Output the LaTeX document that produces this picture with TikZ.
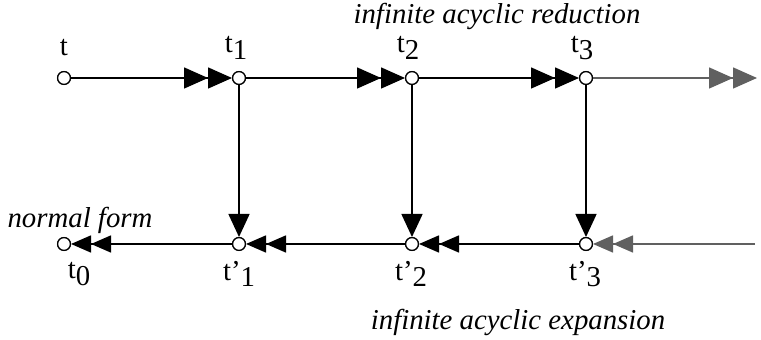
\documentclass[tikz,border=0pt]{standalone}
\usepackage{fontspec}
\setmainfont{Liberation Serif}
\usetikzlibrary{arrows.meta}
\definecolor{lgrey}{HTML}{606060}
\tikzset{
  pt/.style={circle,draw=black,fill=white,line width=0.6pt,inner sep=0pt,minimum size=6.4pt},
  lab/.style={inner sep=0pt,font=\fontsize{14.4}{17}\selectfont},
  itl/.style={inner sep=0pt,font=\fontsize{14.4}{17}\selectfont\itshape},
  conn/.style={line width=0.75pt},
  dbl/.style={conn,-{Triangle[length=12pt,width=10.5pt] Triangle[length=12pt,width=10.5pt]}},
  dblb/.style={conn,-{Triangle[length=10pt,width=8.5pt] Triangle[length=10pt,width=8.5pt]}},
  sgl/.style={conn,-{Triangle[length=11.5pt,width=10.5pt]}},
}
\newcommand{\lw}[1]{\raisebox{-0.22em}{#1}}
\begin{document}
\begin{tikzpicture}[x=0.5pt,y=-0.5pt]
\useasboundingbox (0,0) rectangle (761,340);
% top row
\node[pt] (t)  at (64,78) {};
\node[pt] (t1) at (239,78) {};
\node[pt] (t2) at (412,78) {};
\node[pt] (t3) at (586,78) {};
\coordinate (tend) at (757,78);
% bottom row
\node[pt] (t0)  at (64,244) {};
\node[pt] (tp1) at (239,244) {};
\node[pt] (tp2) at (412,244) {};
\node[pt] (tp3) at (586,244) {};
\coordinate (bend) at (755,244);
% labels
\node[lab] (lt)  at (64,48) {t};
\node[lab] (lt1) at (236,48) {t\lw{1}};
\node[lab] (lt2) at (408,48) {t\lw{2}};
\node[lab] (lt3) at (582,48) {t\lw{3}};
\node[lab] (lt0)  at (79,274) {t\lw{0}};
\node[lab] (ltp1) at (239,274) {t’\lw{1}};
\node[lab] (ltp2) at (411,274) {t’\lw{2}};
\node[lab] (ltp3) at (585,274) {t’\lw{3}};
\node[itl] (red) at (497,16) {infinite acyclic reduction};
\node[itl] (nf)  at (80,220) {normal form};
\node[itl] (exp) at (518,322) {infinite acyclic expansion};
% connectors
\draw[dbl] (t) -- (t1);
\draw[dbl] (t1) -- (t2);
\draw[dbl] (t2) -- (t3);
\draw[dbl,color=lgrey] (t3) -- (tend);
\draw[sgl] (t1) -- (tp1);
\draw[sgl] (t2) -- (tp2);
\draw[sgl] (t3) -- (tp3);
\draw[dblb] (tp1) -- (t0);
\draw[dblb] (tp2) -- (tp1);
\draw[dblb] (tp3) -- (tp2);
\draw[dblb,color=lgrey] (bend) -- (tp3);
% redraw circles on top
\foreach \n in {t,t1,t2,t3,t0,tp1,tp2,tp3}{\node[pt] at (\n) {};}
\end{tikzpicture}
\end{document}
